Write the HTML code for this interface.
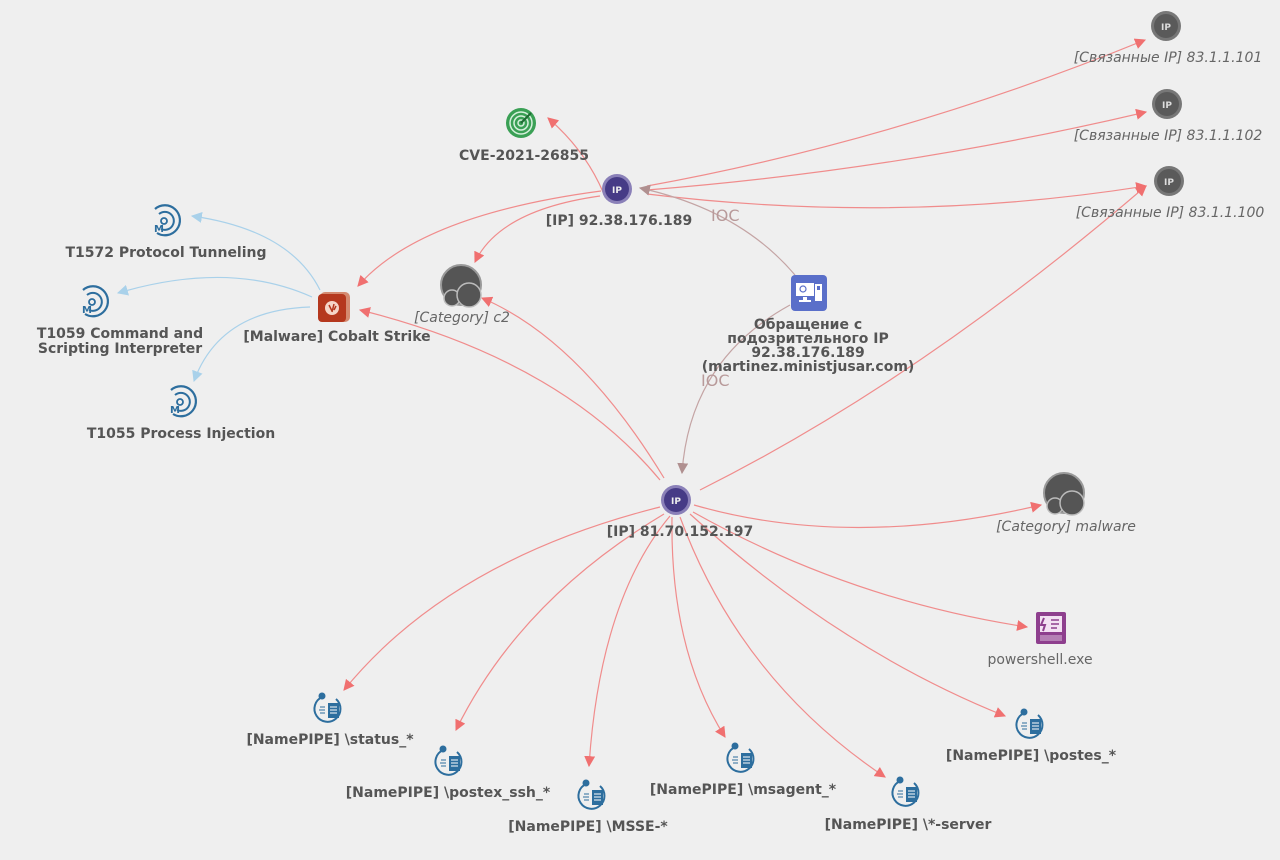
<!DOCTYPE html>
<html><head><meta charset="utf-8"><style>
html,body{margin:0;padding:0;background:#efefef;}
svg{display:block;}
text{font-family:"DejaVu Sans","Liberation Sans",sans-serif;}
.b{font-weight:bold;font-size:14px;fill:#555;}
.i{font-style:italic;font-size:14px;fill:#666;}
.n{font-size:14px;fill:#666;}
.e{fill:none;stroke:#f08c8c;stroke-width:1.2;}
.eb{fill:none;stroke:#a9d1ea;stroke-width:1.2;}
.eg{fill:none;stroke:#c4a4a4;stroke-width:1.2;}
</style></head><body>
<svg width="1280" height="860" viewBox="0 0 1280 860" xmlns="http://www.w3.org/2000/svg">
<defs>
<marker id="ar" viewBox="0 0 10 10" refX="9" refY="5" markerWidth="11" markerHeight="11" markerUnits="userSpaceOnUse" orient="auto"><path d="M0,0L10,5L0,10z" fill="#f07070"/></marker>
<marker id="ab" viewBox="0 0 10 10" refX="9" refY="5" markerWidth="11" markerHeight="11" markerUnits="userSpaceOnUse" orient="auto"><path d="M0,0L10,5L0,10z" fill="#a9d1ea"/></marker>
<marker id="ag" viewBox="0 0 10 10" refX="9" refY="5" markerWidth="11" markerHeight="11" markerUnits="userSpaceOnUse" orient="auto"><path d="M0,0L10,5L0,10z" fill="#b09090"/></marker>
<g id="pipe">
 <path d="M-6,-12 A13,13 0 1 0 8,-10" fill="none" stroke="#2d6e9e" stroke-width="2"/>
 <circle cx="-6" cy="-13" r="3.5" fill="#2d6e9e"/>
 <rect x="0" y="-6" width="11" height="15" fill="#2d6e9e"/>
 <path d="M2,-2h7M2,1h7M2,4h7" stroke="#fff" stroke-width="1"/>
 <path d="M-8,-2h5M-9,1h6M-8,4h5" stroke="#2d6e9e" stroke-width="1"/>
</g>
<g id="mitre">
 <path d="M-8,-12 A15,15 0 1 1 -6,12" fill="none" stroke="#2d6e9e" stroke-width="2.2"/>
 <path d="M-4,-7 A9,9 0 1 1 -2,8" fill="none" stroke="#2d6e9e" stroke-width="2"/>
 <circle cx="1" cy="0" r="3" fill="none" stroke="#2d6e9e" stroke-width="1.8"/>
 <text x="-9" y="11" font-size="10" font-weight="bold" fill="#2d6e9e">M</text>
</g>
<g id="cat">
 <circle r="20" fill="#555" stroke="#999" stroke-width="2"/>
 <circle cx="-9" cy="13" r="8" fill="#555" stroke="#bbb" stroke-width="1.5"/>
 <circle cx="8" cy="10" r="12" fill="#555" stroke="#bbb" stroke-width="1.5"/>
</g>
<g id="gip">
 <circle r="15" fill="#777"/><circle r="12" fill="#5a5a5a"/>
 <text y="4" text-anchor="middle" font-size="9" font-weight="bold" fill="#ddd">IP</text>
</g>
<g id="pip">
 <circle r="15" fill="#8a80b8"/><circle r="12" fill="#463b86"/>
 <text y="4" text-anchor="middle" font-size="9" font-weight="bold" fill="#eee">IP</text>
</g>
</defs>

<path class="e" d="M603,192 Q585,150 548,118" marker-end="url(#ar)"/>
<path class="e" d="M647,186 Q900,140 1145,40" marker-end="url(#ar)"/>
<path class="e" d="M647,190 Q900,170 1146,112" marker-end="url(#ar)"/>
<path class="e" d="M647,194 Q900,225 1146,186" marker-end="url(#ar)"/>
<path class="e" d="M601,191 Q420,215 358,286" marker-end="url(#ar)"/>
<path class="e" d="M600,196 Q500,210 475,262" marker-end="url(#ar)"/>
<path class="eg" d="M795,275 Q740,210 640,188" marker-end="url(#ag)"/>
<path class="eg" d="M790,305 Q690,360 682,473" marker-end="url(#ag)"/>
<text x="711" y="221" font-size="16" fill="#b89a9a">IOC</text>
<text x="701" y="386" font-size="16" fill="#b89a9a">IOC</text>
<path class="e" d="M700,490 Q920,380 1146,186" marker-end="url(#ar)"/>
<path class="e" d="M660,480 Q560,360 360,310" marker-end="url(#ar)"/>
<path class="e" d="M664,478 Q580,340 482,298" marker-end="url(#ar)"/>
<path class="e" d="M694,505 Q850,550 1041,505" marker-end="url(#ar)"/>
<path class="e" d="M693,512 Q850,600 1027,627" marker-end="url(#ar)"/>
<path class="e" d="M660,507 Q450,560 344,690" marker-end="url(#ar)"/>
<path class="e" d="M664,514 Q520,600 456,730" marker-end="url(#ar)"/>
<path class="e" d="M670,516 Q600,600 589,766" marker-end="url(#ar)"/>
<path class="e" d="M672,517 Q670,650 725,737" marker-end="url(#ar)"/>
<path class="e" d="M680,517 Q740,680 885,777" marker-end="url(#ar)"/>
<path class="e" d="M690,514 Q840,650 1005,716" marker-end="url(#ar)"/>
<path class="eb" d="M320,290 Q290,230 192,216" marker-end="url(#ab)"/>
<path class="eb" d="M312,297 Q230,260 118,293" marker-end="url(#ab)"/>
<path class="eb" d="M310,307 Q220,310 194,381" marker-end="url(#ab)"/>

<g transform="translate(521,123)">
 <circle r="15" fill="#3aa055"/><circle r="11" fill="none" stroke="#d6f0dc" stroke-width="1.5"/>
 <circle r="7" fill="none" stroke="#d6f0dc" stroke-width="1.5"/><circle r="3" fill="none" stroke="#d6f0dc" stroke-width="1.5"/>
 <path d="M0,0L10,-10" stroke="#1f6a33" stroke-width="2"/>
</g>
<text class="b" x="524" y="160" text-anchor="middle">CVE-2021-26855</text>

<use href="#pip" x="617" y="189"/>
<text class="b" x="619" y="225" text-anchor="middle">[IP] 92.38.176.189</text>

<use href="#gip" x="1166" y="26"/>
<text class="i" x="1168" y="62" text-anchor="middle">[Связанные IP] 83.1.1.101</text>
<use href="#gip" x="1167" y="104"/>
<text class="i" x="1168" y="140" text-anchor="middle">[Связанные IP] 83.1.1.102</text>
<use href="#gip" x="1169" y="181"/>
<text class="i" x="1170" y="217" text-anchor="middle">[Связанные IP] 83.1.1.100</text>

<use href="#cat" x="461" y="285"/>
<text class="i" x="462" y="322" text-anchor="middle">[Category] c2</text>

<g transform="translate(334,306)">
 <rect x="-14" y="-14" width="30" height="30" rx="5" fill="#d48a70"/>
 <rect x="-16" y="-12" width="28" height="28" rx="4" fill="#b5381e"/>
 <circle cx="-2" cy="2" r="7" fill="#f5d5c8"/>
 <path d="M-5,-1l3,6M0,-2l-2,8M2,0l-2,4" stroke="#b5381e" stroke-width="1.5"/>
</g>
<text class="b" x="337" y="341" text-anchor="middle">[Malware] Cobalt Strike</text>

<use href="#mitre" x="163" y="221"/>
<text class="b" x="166" y="257" text-anchor="middle">T1572 Protocol Tunneling</text>
<use href="#mitre" x="91" y="302"/>
<text class="b" x="120" y="338" text-anchor="middle">T1059 Command and</text>
<text class="b" x="120" y="353" text-anchor="middle">Scripting Interpreter</text>
<use href="#mitre" x="179" y="402"/>
<text class="b" x="181" y="438" text-anchor="middle">T1055 Process Injection</text>

<g transform="translate(809,293)">
 <rect x="-18" y="-18" width="36" height="36" rx="4" fill="#5a6fc9"/>
 <rect x="-13" y="-10" width="18" height="13" fill="#fff"/>
 <circle cx="-6" cy="-4" r="3" fill="none" stroke="#5a6fc9" stroke-width="1.2"/>
 <rect x="-6" y="4" width="4" height="3" fill="#fff"/><rect x="-10" y="7" width="12" height="2" fill="#fff"/>
 <rect x="6" y="-9" width="7" height="17" fill="#fff"/><rect x="8" y="-7" width="3" height="4" fill="#5a6fc9"/>
</g>
<text class="b" x="808" y="329" text-anchor="middle">Обращение с</text>
<text class="b" x="808" y="343" text-anchor="middle">подозрительного IP</text>
<text class="b" x="808" y="357" text-anchor="middle">92.38.176.189</text>
<text class="b" x="808" y="371" text-anchor="middle">(martinez.ministjusar.com)</text>

<use href="#pip" x="676" y="500"/>
<text class="b" x="680" y="536" text-anchor="middle">[IP] 81.70.152.197</text>

<use href="#cat" x="1064" y="493"/>
<text class="i" x="1066" y="531" text-anchor="middle">[Category] malware</text>

<g transform="translate(1051,628)">
 <rect x="-15" y="-16" width="30" height="32" rx="2" fill="#8e3f8e"/>
 <rect x="-11" y="-12" width="22" height="16" fill="#f3e1f3"/>
 <path d="M-7,-10l-3,7h4l-2,6" stroke="#8e3f8e" stroke-width="2" fill="none"/>
 <path d="M0,-8h8M0,-4h8M0,0h6" stroke="#8e3f8e" stroke-width="1.5"/>
 <rect x="-11" y="7" width="22" height="6" fill="#b57fb5"/>
</g>
<text class="n" x="1040" y="664" text-anchor="middle">powershell.exe</text>

<use href="#pipe" x="328" y="709"/>
<text class="b" x="330" y="744" text-anchor="middle">[NamePIPE] \status_*</text>
<use href="#pipe" x="449" y="762"/>
<text class="b" x="448" y="797" text-anchor="middle">[NamePIPE] \postex_ssh_*</text>
<use href="#pipe" x="592" y="796"/>
<text class="b" x="588" y="831" text-anchor="middle">[NamePIPE] \MSSE-*</text>
<use href="#pipe" x="741" y="759"/>
<text class="b" x="743" y="794" text-anchor="middle">[NamePIPE] \msagent_*</text>
<use href="#pipe" x="906" y="793"/>
<text class="b" x="908" y="829" text-anchor="middle">[NamePIPE] \*-server</text>
<use href="#pipe" x="1030" y="725"/>
<text class="b" x="1031" y="760" text-anchor="middle">[NamePIPE] \postes_*</text>
</svg>
</body></html>
